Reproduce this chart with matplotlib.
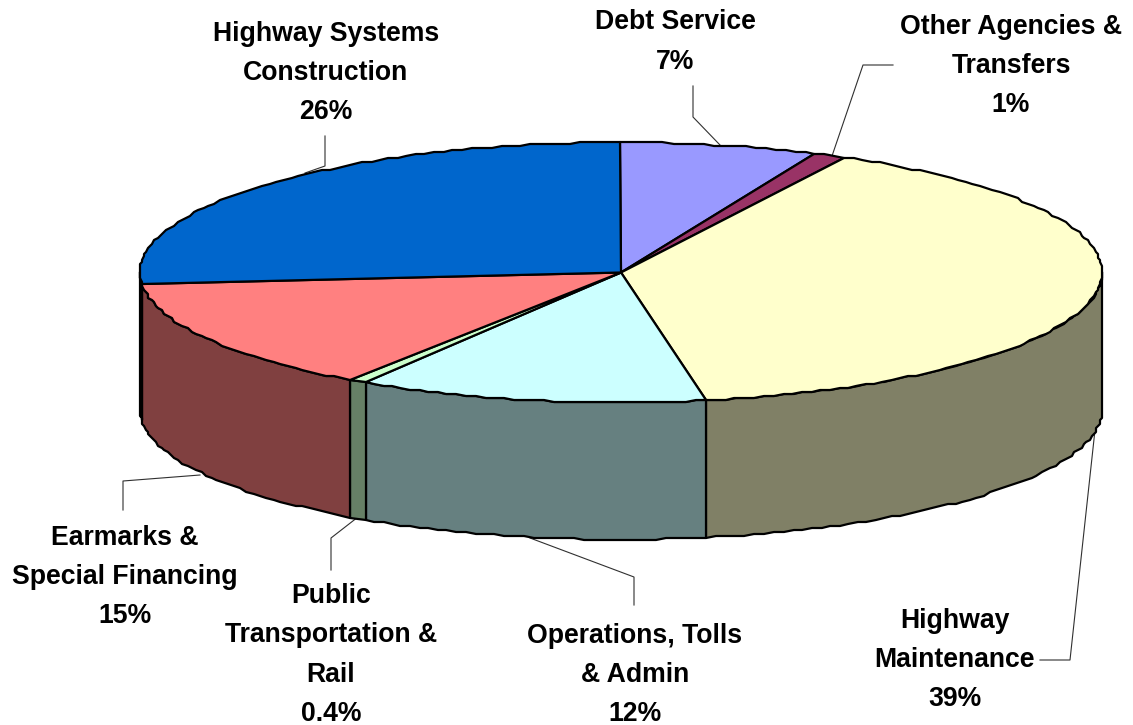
import numpy as np
import matplotlib
matplotlib.use('Agg')
import matplotlib.pyplot as plt
from matplotlib.patches import Polygon
from matplotlib.colors import to_rgb

# slices clockwise from 12 o'clock, shares
names = ['Debt Service', 'Other Agencies &\nTransfers', 'Highway\nMaintenance',
         'Operations, Tolls\n& Admin', 'Public\nTransportation &\nRail',
         'Earmarks &\nSpecial Financing', 'Highway Systems\nConstruction']
shares = [6.6, 1.1, 39.5, 11.7, 0.6, 14.1, 26.4]
pct_labels = ['7%', '1%', '39%', '12%', '0.4%', '15%', '26%']
colors = ['#9999FF', '#993366', '#FFFFCC', '#CCFFFF', '#CCFFCC', '#FF8080', '#0066CC']

# pie shape in pixels
cx, cy = 621, 272.5
rx, ry = 481, 130
depth = 137

# label centres and leader lines
label_pos = [(675, 42), (1011, 66), (955, 660), (635, 675), (331, 655), (125, 577), (326, 73)]
leaders = [[(693, 86), (693, 117), (720, 145)],
           [(893, 65), (863, 65), (832, 156)],
           [(1040, 660), (1070, 660), (1095, 430)],
           [(634, 605), (634, 577), (530, 538)],
           [(331, 570), (331, 538), (358, 517)],
           [(123, 510), (123, 481), (200, 475)],
           [(325, 136), (325, 166), (305, 173)]]

plt.rcParams['font.family'] = ['Liberation Sans', 'DejaVu Sans']

fig = plt.figure(figsize=(11.33, 7.25), dpi=100)
ax = fig.add_axes([0, 0, 1, 1])
ax.set_xlim(0, 1133)
ax.set_ylim(725, 0)
ax.axis('off')


def rim(a, b, dy=0):
    # points snapped to a 2px grid, the original outline is a bit jagged too
    n = max(2, int(abs(b - a) / 1.2) + 1)
    t = np.radians(np.linspace(a, b, n))
    pts = np.column_stack([cx + rx * np.sin(t), cy - ry * np.cos(t) + dy])
    return np.round(pts / 2) * 2


edges = np.concatenate([[0], np.cumsum(shares)]) / sum(shares) * 360

# outer wall, only the front half shows
for i, c in enumerate(colors):
    a, b = max(edges[i], 90), min(edges[i + 1], 270)
    if a < b:
        side = tuple(x * 0.5 for x in to_rgb(c))
        pts = np.vstack([rim(a, b), rim(b, a, depth)])
        ax.add_patch(Polygon(pts, closed=True, fc=side, ec='black', lw=1.6, joinstyle='round', zorder=2))

# top face
for i, c in enumerate(colors):
    pts = np.vstack([[(cx, cy)], rim(edges[i], edges[i + 1])])
    ax.add_patch(Polygon(pts, closed=True, fc=c, ec='black', lw=1.6, joinstyle='round', zorder=3))

for line in leaders:
    xs, ys = zip(*line)
    ax.plot(xs, ys, color='#303030', lw=0.8, zorder=1)

for name, pct, (x, y) in zip(names, pct_labels, label_pos):
    ax.text(x, y, name + '\n' + pct, ha='center', va='center', fontsize=19.2, fontweight='bold',
            linespacing=1.66, color='black', zorder=5)

fig.savefig('out.png', dpi=100)
